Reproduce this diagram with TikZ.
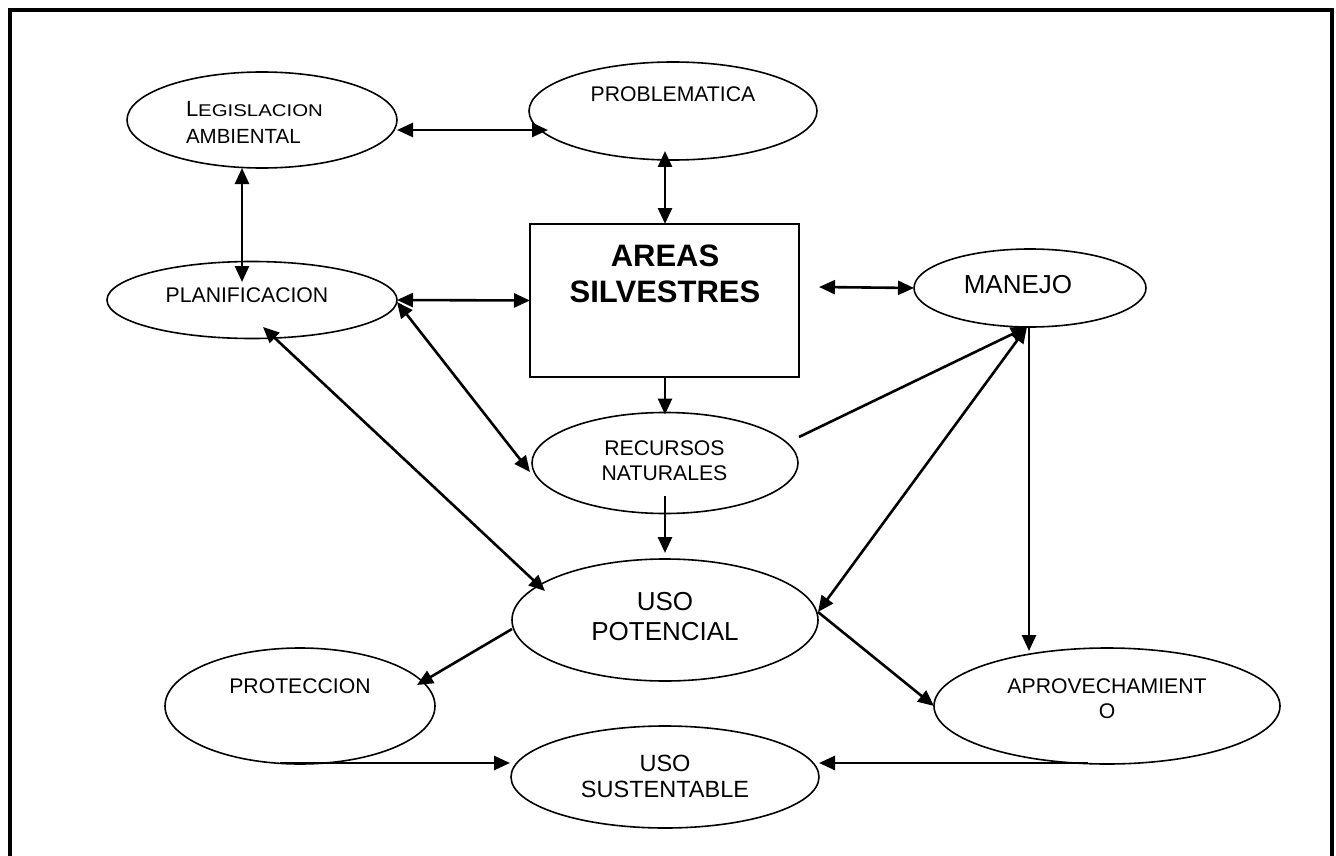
\documentclass[tikz,border=0pt]{standalone}
\usepackage{fontspec}
\setmainfont{Liberation Sans}
\usetikzlibrary{arrows.meta,shapes.geometric,calc}
\begin{document}
\begin{tikzpicture}[x=1pt,y=-1pt,
 ell/.style={draw,ellipse,line width=1.6pt,inner sep=0pt,outer sep=0pt},
 boxnode/.style={draw,rectangle,line width=1.6pt,inner sep=0pt,outer sep=0pt},
 lbl/.style={anchor=base,inner sep=0pt,outer sep=0pt,font=\fontsize{21.2}{24}\selectfont},
 big/.style={font=\fontsize{26}{30}\selectfont},
 mid/.style={font=\fontsize{23.5}{26}\selectfont},
 bold/.style={font=\fontsize{31}{34}\selectfont\bfseries},
 con/.style={line width=2.6pt,-{Triangle[length=16pt,width=14pt]}},
 dcon/.style={line width=2.6pt,{Triangle[length=16pt,width=14pt]}-{Triangle[length=16pt,width=14pt]}}]
\useasboundingbox (0,0) rectangle (1336,856);
\draw[line width=4.5pt] (10,858) -- (10,10) -- (1332,10) -- (1332,858);

% shapes
\node[ell,minimum width=270pt,minimum height=96pt] (leg) at (262,120) {};
\node[ell,minimum width=288pt,minimum height=98pt] (prob) at (673,111) {};
\node[ell,minimum width=290pt,minimum height=77pt] (plan) at (252,300) {};
\node[boxnode,minimum width=269pt,minimum height=153pt] (areas) at (664.5,300.5) {};
\node[ell,minimum width=232pt,minimum height=78pt] (man) at (1030,288) {};
\node[ell,minimum width=266pt,minimum height=101pt] (rec) at (665,463) {};
\node[ell,minimum width=306pt,minimum height=122pt] (upot) at (665,620) {};
\node[ell,minimum width=270pt,minimum height=116pt] (prot) at (300,706) {};
\node[ell,minimum width=346pt,minimum height=116pt] (aprov) at (1107,706) {};
\node[ell,minimum width=308pt,minimum height=102pt] (usus) at (665,777) {};

% texts
\node[lbl,anchor=base west] (legt1) at (186,117) {{\fontsize{22}{22}\selectfont L}\scalebox{1.2}[1]{\fontsize{17}{17}\selectfont EGISLACION}};
\node[lbl,anchor=base west,font=\fontsize{20.5}{24}\selectfont] (legt2) at (186,144) {AMBIENTAL};
\node[lbl] (probt) at (673,102) {PROBLEMATICA};
\node[lbl,bold] (areast1) at (665,266) {AREAS};
\node[lbl,bold] (areast2) at (665,302) {SILVESTRES};
\node[lbl] (plant) at (247,302) {PLANIFICACION};
\node[lbl,big] (mant) at (1018,293) {MANEJO};
\node[lbl] (rect1) at (664.5,455) {RECURSOS};
\node[lbl] (rect2) at (664.5,480) {NATURALES};
\node[lbl,big] (upott1) at (665,610) {USO};
\node[lbl,big] (upott2) at (665,640) {POTENCIAL};
\node[lbl] (prott) at (300,693) {PROTECCION};
\node[lbl] (aprovt1) at (1107,693) {APROVECHAMIENT};
\node[lbl] (aprovt2) at (1107,718) {O};
\node[lbl,mid] (usust1) at (665,771) {USO};
\node[lbl,mid] (usust2) at (665,797) {SUSTENTABLE};

% connectors
\draw[dcon] ($(leg.center)+(135,10)$) -- ($(prob.center)+(-125,19)$);
\draw[dcon] ($(areas.north)+(0.5,-73)$) -- ($(areas.north)+(0.5,0)$);
\draw[dcon] (plan.east) -- (areas.west);
\draw[dcon] ($(leg.south)+(-20,0)$) -- ($(plan.north)+(-10,20.5)$);
\draw[dcon] ($(plan.center)+(145,2)$) -- ($(rec.center)+(-135,9)$);
\draw[dcon] ($(plan.center)+(11,27)$) -- ($(upot.center)+(-120,-29)$);
\draw[con] ($(areas.south)+(0.5,0)$) -- ($(rec.north)+(0,2)$);
\draw[con] ($(rec.center)+(0,33)$) -- ($(upot.north)+(0,-6)$);
\draw[dcon] ($(areas.east)+(20,-13.5)$) -- (man.west);
\draw[con] ($(rec.center)+(134,-26)$) -- ($(man.south)+(-3,0)$);
\draw[dcon] ($(upot.center)+(153,-8)$) -- ($(man.south)+(-3,0)$);
\draw[con] ($(man.south)+(-1,0)$) -- ($(aprov.center)+(-78,-55)$);
\draw[con] ($(upot.center)+(153,-8)$) -- (aprov.west);
\draw[con] ($(upot.center)+(-153,9)$) -- ($(prot.center)+(117,-21)$);
\draw[con] ($(prot.center)+(-20,57)$) -- ($(usus.center)+(-155,-14)$);
\draw[con] ($(aprov.center)+(-19,57)$) -- ($(usus.center)+(154,-14)$);
\end{tikzpicture}
\end{document}
